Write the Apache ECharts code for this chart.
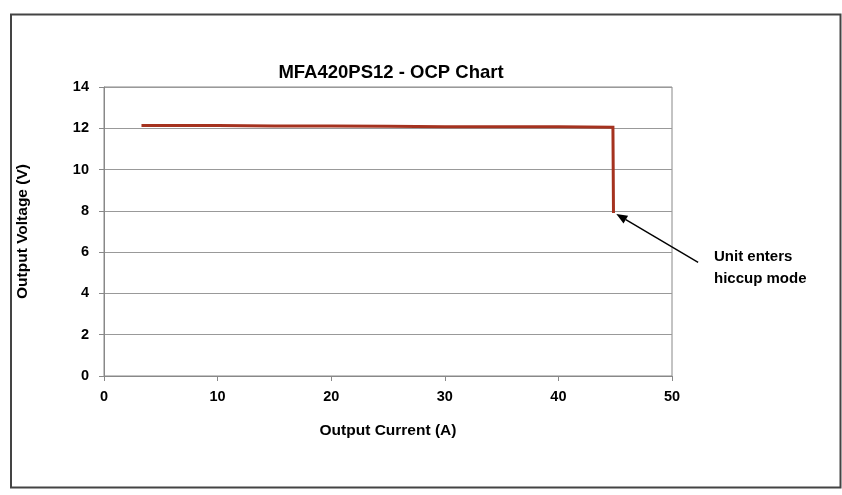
<!DOCTYPE html>
<html>
<head>
<meta charset="utf-8">
<script src="https://cdn.jsdelivr.net/npm/echarts@6/dist/echarts.min.js"></script>
<style>html,body{margin:0;padding:0;background:#fff}#c{width:842px;height:495px}</style>
</head>
<body>
<div id="c"></div>
<script>
var currentA = [3.3, 10, 15, 20, 25, 30, 35, 40, 44.8, 44.85];
var voltageV = [12.13, 12.13, 12.11, 12.11, 12.1, 12.08, 12.08, 12.07, 12.05, 7.9];
var xTicks = [0, 10, 20, 30, 40, 50];
var yTicks = [0, 2, 4, 6, 8, 10, 12, 14];
var titleText = 'MFA420PS12 - OCP Chart';
var xName = 'Output Current (A)';
var yName = 'Output Voltage (V)';
var noteText = 'Unit enters\nhiccup mode';
var arrowFrom = [52.3, 5.5];
var arrowTo = [45.1, 7.85];

var font = '"Liberation Sans", Arial, sans-serif';
var chart = echarts.init(document.getElementById('c'));
var pts = currentA.map(function (x, i) { return [x, voltageV[i]]; });
chart.setOption({
  animation: false,
  backgroundColor: '#fff',
  title: [{
    text: titleText, left: 386, top: 58, textAlign: 'center',
    textStyle: { fontFamily: font, fontSize: 18.5, fontWeight: 'bold', color: '#000' }
  }, {
    text: noteText, left: 709, top: 241,
    textStyle: { fontFamily: font, fontSize: 15, fontWeight: 'bold', color: '#000', lineHeight: 22 }
  }],
  grid: { left: 104, right: 170, top: 87, bottom: 119, show: true, borderColor: '#888', borderWidth: 1 },
  xAxis: {
    type: 'value', min: 0, max: 50, interval: 10,
    name: xName, nameLocation: 'middle', nameGap: 47,
    nameTextStyle: { fontFamily: font, fontSize: 15.5, fontWeight: 'bold', color: '#000' },
    axisLine: { lineStyle: { color: '#888' } },
    axisTick: { show: true, length: 5, lineStyle: { color: '#888' } },
    axisLabel: { fontFamily: font, fontSize: 14.5, fontWeight: 'bold', color: '#000', margin: 13 },
    splitLine: { show: false }
  },
  yAxis: {
    type: 'value', min: 0, max: 14, interval: 2,
    name: yName, nameLocation: 'middle', nameGap: 73, nameRotate: 90,
    nameTextStyle: { fontFamily: font, fontSize: 15.5, fontWeight: 'bold', color: '#000' },
    axisLine: { show: true, lineStyle: { color: '#888' } },
    axisTick: { show: true, length: 5, lineStyle: { color: '#888' } },
    axisLabel: { fontFamily: font, fontSize: 14.5, fontWeight: 'bold', color: '#000', margin: 15 },
    splitLine: { show: true, lineStyle: { color: '#999', width: 1 } }
  },
  series: [{
    type: 'line', data: pts, showSymbol: false, symbol: 'none',
    lineStyle: { color: '#A5321F', width: 3, cap: 'butt', join: 'miter' },
    clip: false
  }]
});
var p0 = chart.convertToPixel({ gridIndex: 0 }, arrowFrom);
var p1 = chart.convertToPixel({ gridIndex: 0 }, arrowTo);
var ang = Math.atan2(p1[1] - p0[1], p1[0] - p0[0]);
var hl = 11, hw = 4.5;
var bx = p1[0] - hl * Math.cos(ang), by = p1[1] - hl * Math.sin(ang);
var nx = -Math.sin(ang), ny = Math.cos(ang);
chart.setOption({
  graphic: [{
    type: 'rect', shape: { x: 11, y: 14.5, width: 829.5, height: 473 },
    style: { fill: 'none', stroke: '#444', lineWidth: 2 }, z: 100
  }, {
    type: 'line', shape: { x1: p0[0], y1: p0[1], x2: bx, y2: by },
    style: { stroke: '#000', lineWidth: 1.4 }, z: 100
  }, {
    type: 'polygon',
    shape: { points: [[p1[0], p1[1]], [bx + nx * hw, by + ny * hw], [bx - nx * hw, by - ny * hw]] },
    style: { fill: '#000' }, z: 100
  }]
});
</script>
</body>
</html>
